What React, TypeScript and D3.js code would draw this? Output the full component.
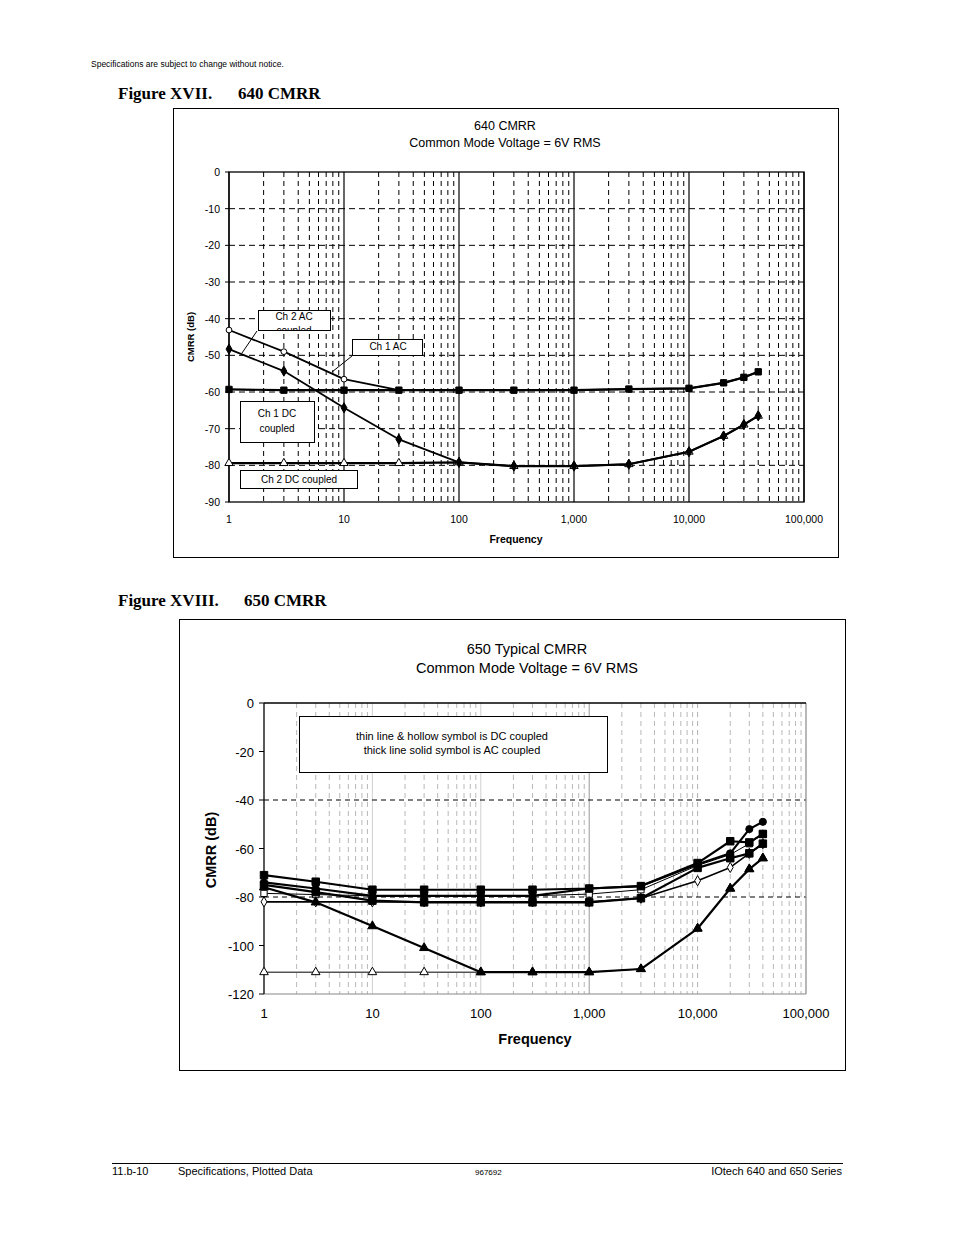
import React from 'react';
import * as d3 from 'd3';

// ---------- shared data ----------
const freqs = [1, 3, 10, 30, 100, 300, 1000, 3000, 10000, 20000, 30000, 40000];
const decadeTicks = [1, 10, 100, 1000, 10000, 100000];
const decadeLabels = ['1', '10', '100', '1,000', '10,000', '100,000'];

// ---------- Figure XVII: 640 CMRR ----------
const ch1DC640 = [-59.3, -59.5, -59.5, -59.5, -59.5, -59.5, -59.5, -59.2, -59, -57.5, -56, -54.5];
const ch2DC640 = [-79.4, -79.4, -79.4, -79.4, -79.2, -80.2, -80.2, -79.7, -76.3, -72, -68.9, -66.5];
const ch1AC640 = [-48.3, -54.3, -64.3, -72.9, -79.2, -80.2, -80.2, -79.7, -76.3, -72, -68.9, -66.5];
const ch2AC640 = [-43.1, -49, -56.5, -59.5, -59.5, -59.5, -59.5, -59.2, -59, -57.5, -56, -54.5];
const yTicks640 = [0, -10, -20, -30, -40, -50, -60, -70, -80, -90];

// ---------- Figure XVIII: 650 CMRR ----------
const acSquareA650 = [-71, -73.7, -77, -77, -77, -77, -76.5, -75.5, -66, -57, -57.5, -54];
const acSquareB650 = [-75, -78, -81.5, -82.2, -82.2, -82.2, -82.2, -80.5, -68, -64, -62, -58];
const acCircle650 = [-74, -76.5, -79.5, -79.5, -79.5, -79.5, -76.5, -75.5, -66.5, -62, -52, -49];
const acTriangle650 = [-76, -82.2, -92, -101, -111, -111, -111, -109.7, -93, -76.5, -68.5, -64];
const dcSquare650 = [-78.5, -79, -79.5, -79.5, -79.5, -79.5, -78.8, -77, -67, -62.5, -58, -54];
const dcTriangle650 = [-111, -111, -111, -111, -111, -111, -111, -109.7, -93, -76.5, -68.5, -64];
const diamond650 = [-82, -82, -82, -82, -82, -82, -82, -80.5, -73.3, -67.8, -62, -58];
const yTicks650 = [0, -20, -40, -60, -80, -100, -120];

const minorTicks: number[] = [];
[1, 10, 100, 1000, 10000].forEach((d) => {
  for (let k = 2; k <= 9; k++) minorTicks.push(d * k);
});

const SANS = '"Liberation Sans", Arial, sans-serif';
const SERIF = '"Liberation Serif", "Times New Roman", serif';

type Sym = 'square' | 'circle' | 'triangle' | 'diamond';
const symType = (s: Sym) =>
  s === 'square' ? d3.symbolSquare : s === 'circle' ? d3.symbolCircle : s === 'triangle' ? d3.symbolTriangle : d3.symbolDiamond;

function Series({
  values, x, y, sym, size, fill, width, id,
}: {
  values: number[]; x: any; y: any; sym: Sym; size: number; fill: string; width: number; id: string;
}) {
  const line = d3.line<number>().x((_, i) => x(freqs[i])).y((v) => y(v));
  const path = d3.symbol().type(symType(sym)).size(size)() as string;
  return (
    <g>
      <path d={line(values) as string} fill="none" stroke="#000" strokeWidth={width} strokeLinejoin="round" />
      {values.map((v, i) => (
        <path key={id + i} d={path} transform={`translate(${x(freqs[i])},${y(v)})`} fill={fill} stroke="#000" strokeWidth={1} />
      ))}
    </g>
  );
}

function Chart640() {
  const x = d3.scaleLog().domain([1, 100000]).range([229, 804]);
  const y = d3.scaleLinear().domain([-90, 0]).range([502, 172]);
  const [x0, x1] = x.range();
  const [yb, yt] = y.range();
  return (
    <g fontFamily={SANS}>
      <rect x={173.5} y={108.5} width={665} height={449} fill="#fff" stroke="#000" strokeWidth={1} />
      <text x={505} y={130} textAnchor="middle" fontSize={12.5}>640 CMRR</text>
      <text x={505} y={147} textAnchor="middle" fontSize={12.5}>Common Mode Voltage = 6V RMS</text>
      {/* grid */}
      {yTicks640.filter((t) => t !== 0 && t !== -90).map((t) => (
        <line key={'h' + t} x1={x0} x2={x1} y1={y(t)} y2={y(t)} stroke="#000" strokeWidth={1} strokeDasharray="6,4" />
      ))}
      {minorTicks.map((t) => (
        <line key={'v' + t} x1={x(t)} x2={x(t)} y1={yt} y2={yb} stroke="#000" strokeWidth={1} strokeDasharray="5,4" />
      ))}
      {decadeTicks.map((t) => (
        <line key={'d' + t} x1={x(t)} x2={x(t)} y1={yt} y2={yb} stroke="#000" strokeWidth={1.2} />
      ))}
      <rect x={x0} y={yt} width={x1 - x0} height={yb - yt} fill="none" stroke="#000" strokeWidth={1.3} />
      {/* y axis */}
      {yTicks640.map((t) => (
        <g key={'yt' + t}>
          <line x1={x0 - 4} x2={x0} y1={y(t)} y2={y(t)} stroke="#000" />
          <text x={x0 - 9} y={y(t) + 4} textAnchor="end" fontSize={10.5}>{t}</text>
        </g>
      ))}
      {decadeTicks.map((t, i) => (
        <text key={'xl' + t} x={x(t)} y={523} textAnchor="middle" fontSize={10.5}>{decadeLabels[i]}</text>
      ))}
      <text x={516} y={543} textAnchor="middle" fontSize={10.5} fontWeight="bold">Frequency</text>
      <text transform="translate(194,337) rotate(-90)" textAnchor="middle" fontSize={9.5} fontWeight="bold">CMRR (dB)</text>
      {/* series */}
      <Series id="c2ac" values={ch2AC640} x={x} y={y} sym="circle" size={26} fill="#fff" width={1.8} />
      <Series id="c1dc" values={ch1DC640} x={x} y={y} sym="square" size={40} fill="#000" width={2.2} />
      <Series id="c2dc" values={ch2DC640} x={x} y={y} sym="triangle" size={30} fill="#fff" width={2.2} />
      <Series id="c1ac" values={ch1AC640} x={x} y={y} sym="diamond" size={30} fill="#000" width={1.8} />
      {/* annotations */}
      <defs>
        <clipPath id="clipA"><rect x={258} y={310} width={73} height={21} /></clipPath>
        <clipPath id="clipB"><rect x={352} y={340} width={71} height={16} /></clipPath>
      </defs>
      <line x1={257} y1={331} x2={242} y2={353} stroke="#000" strokeWidth={1} />
      <rect x={258.5} y={310.5} width={72} height={20} fill="#fff" stroke="#000" />
      <g clipPath="url(#clipA)" fontSize={10}>
        <text x={294} y={320} textAnchor="middle">Ch 2 AC</text>
        <text x={294} y={334} textAnchor="middle">coupled</text>
      </g>
      <line x1={352} y1={356} x2={332} y2={372} stroke="#000" strokeWidth={1} />
      <rect x={352.5} y={339.5} width={70} height={16} fill="#fff" stroke="#000" />
      <g clipPath="url(#clipB)" fontSize={10}>
        <text x={388} y={350} textAnchor="middle">Ch 1 AC</text>
        <text x={388} y={364} textAnchor="middle">coupled</text>
      </g>
      <rect x={240.5} y={401.5} width={74} height={41} fill="#fff" stroke="#000" />
      <text x={277} y={417} textAnchor="middle" fontSize={10}>Ch 1 DC</text>
      <text x={277} y={432} textAnchor="middle" fontSize={10}>coupled</text>
      <rect x={240.5} y={470.5} width={117} height={18} fill="#fff" stroke="#000" />
      <text x={299} y={483} textAnchor="middle" fontSize={10}>Ch 2 DC coupled</text>
    </g>
  );
}

function Chart650() {
  const x = d3.scaleLog().domain([1, 100000]).range([264, 806]);
  const y = d3.scaleLinear().domain([-120, 0]).range([994, 703]);
  const [x0, x1] = x.range();
  const [yb, yt] = y.range();
  return (
    <g fontFamily={SANS}>
      <rect x={179.5} y={619.5} width={666} height={451} fill="#fff" stroke="#000" strokeWidth={1} />
      <text x={527} y={654} textAnchor="middle" fontSize={14.5}>650 Typical CMRR</text>
      <text x={527} y={673} textAnchor="middle" fontSize={14.5}>Common Mode Voltage = 6V RMS</text>
      {/* grid */}
      {minorTicks.map((t) => (
        <line key={'v' + t} x1={x(t)} x2={x(t)} y1={yt} y2={yb} stroke="#b8b8b8" strokeWidth={1} strokeDasharray="5,4" />
      ))}
      {[10, 100].map((t) => (
        <line key={'d' + t} x1={x(t)} x2={x(t)} y1={yt} y2={yb} stroke="#d0d0d0" strokeWidth={1} />
      ))}
      <line x1={x(1000)} x2={x(1000)} y1={yt} y2={yb} stroke="#999" strokeWidth={1} />
      <line x1={x(10000)} x2={x(10000)} y1={yt} y2={yb} stroke="#b0b0b0" strokeWidth={1} strokeDasharray="5,4" />
      {[-40, -80].map((t) => (
        <line key={'h' + t} x1={x0} x2={x1} y1={y(t)} y2={y(t)} stroke="#000" strokeWidth={1} strokeDasharray="5,4" />
      ))}
      <line x1={x1} x2={x1} y1={yt} y2={yb} stroke="#888" strokeWidth={1.2} />
      <line x1={x0} x2={x1} y1={yb} y2={yb} stroke="#888" strokeWidth={1.2} />
      <line x1={x0} x2={x1} y1={yt} y2={yt} stroke="#000" strokeWidth={1.3} />
      <line x1={x0} x2={x0} y1={yt} y2={yb} stroke="#000" strokeWidth={1.3} />
      {/* y axis */}
      {yTicks650.map((t) => (
        <g key={'yt' + t}>
          <line x1={x0 - 5} x2={x0} y1={y(t)} y2={y(t)} stroke="#000" />
          <text x={x0 - 10} y={y(t) + 5} textAnchor="end" fontSize={13}>{t}</text>
        </g>
      ))}
      {decadeTicks.map((t, i) => (
        <text key={'xl' + t} x={x(t)} y={1018} textAnchor="middle" fontSize={13}>{decadeLabels[i]}</text>
      ))}
      <text x={535} y={1044} textAnchor="middle" fontSize={14.5} fontWeight="bold">Frequency</text>
      <text transform="translate(216,850) rotate(-90)" textAnchor="middle" fontSize={14.5} fontWeight="bold">CMRR (dB)</text>
      {/* legend note */}
      <rect x={299.5} y={716.5} width={308} height={56} fill="#fff" stroke="#000" />
      <text x={452} y={740} textAnchor="middle" fontSize={11}>thin line &amp; hollow symbol is DC coupled</text>
      <text x={452} y={754} textAnchor="middle" fontSize={11}>thick line solid symbol is AC coupled</text>
      {/* series: DC thin first */}
      <Series id="dct" values={dcTriangle650} x={x} y={y} sym="triangle" size={32} fill="#fff" width={1} />
      <Series id="dcs" values={dcSquare650} x={x} y={y} sym="square" size={40} fill="#fff" width={1} />
      <Series id="dia" values={diamond650} x={x} y={y} sym="diamond" size={30} fill="#fff" width={1.6} />
      <Series id="acb" values={acSquareB650} x={x} y={y} sym="square" size={56} fill="#000" width={2.2} />
      <Series id="acc" values={acCircle650} x={x} y={y} sym="circle" size={40} fill="#000" width={2.2} />
      <Series id="aca" values={acSquareA650} x={x} y={y} sym="square" size={56} fill="#000" width={2.2} />
      <Series id="act" values={acTriangle650} x={x} y={y} sym="triangle" size={36} fill="#000" width={2.2} />
    </g>
  );
}

export default function App() {
  return (
    <svg
      width={954}
      height={1235}
      viewBox="0 0 954 1235"
      style={{ position: 'absolute', left: 0, top: 0, background: '#fff' }}
    >
      <rect x={0} y={0} width={954} height={1235} fill="#fff" />
      <text x={91} y={67} fontSize={8.5} fontFamily={SANS}>Specifications are subject to change without notice.</text>
      <g fontSize={17} fontWeight="bold" fontFamily={SERIF}>
        <text x={118} y={99}>Figure XVII.</text>
        <text x={238} y={99}>640 CMRR</text>
        <text x={118} y={606}>Figure XVIII.</text>
        <text x={244} y={606}>650 CMRR</text>
      </g>
      <Chart640 />
      <Chart650 />
      <line x1={112} x2={843} y1={1163.5} y2={1163.5} stroke="#000" strokeWidth={1} />
      <g fontFamily={SANS} fontSize={11}>
        <text x={112} y={1175}>11.b-10</text>
        <text x={178} y={1175}>Specifications, Plotted Data</text>
        <text x={475} y={1175} fontSize={8}>967692</text>
        <text x={842} y={1175} textAnchor="end">IOtech 640 and 650 Series</text>
      </g>
    </svg>
  );
}
